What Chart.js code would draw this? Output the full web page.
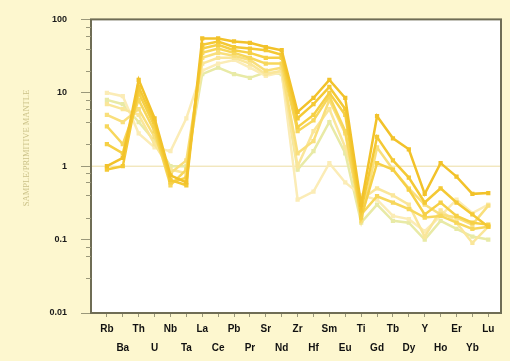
<!DOCTYPE html>
<html>
<head>
<meta charset="utf-8">
<script src="https://cdn.jsdelivr.net/npm/chart.js@4.4.1/dist/chart.umd.min.js"></script>
<style>
  html, body { margin: 0; padding: 0; background: #fdf7cf; }
  #wrap { width: 510px; height: 361px; position: relative; }
</style>
</head>
<body>
<div id="wrap"><canvas id="c" width="510" height="361"></canvas></div>
<script>
// Primitive-mantle normalised trace elements
const elements = ['Rb','Ba','Th','U','Nb','Ta','La','Ce','Pb','Pr','Sr','Nd','Zr','Hf','Sm','Eu','Ti','Gd','Tb','Dy','Y','Ho','Er','Yb','Lu'];

const sample1 = [1.0, 1.3, 15, 4.5, 0.75, 0.6, 55, 55, 50, 48, 42, 38, 5.5, 8.5, 15, 8.5, 0.3, 4.8, 2.4, 1.7, 0.42, 1.1, 0.72, 0.42, 0.43];
const sample2 = [0.9, 1.0, 12, 4.0, 0.65, 0.55, 45, 50, 42, 40, 38, 33, 4.5, 7.0, 12, 6.0, 0.25, 2.5, 1.2, 0.7, 0.32, 0.5, 0.32, 0.22, 0.15];
const sample3 = [2.0, 1.5, 10, 3.5, 0.6, 0.7, 40, 45, 38, 35, 30, 30, 3.4, 5.0, 10, 5.0, 0.2, 1.1, 0.9, 0.48, 0.22, 0.32, 0.21, 0.17, 0.16];
const sample4 = [3.5, 2.0, 8.0, 3.0, 0.55, 0.9, 35, 40, 35, 30, 25, 25, 3.0, 4.2, 9.0, 3.0, 0.22, 0.39, 0.32, 0.26, 0.2, 0.21, 0.17, 0.14, 0.15];
const sample5 = [5.0, 4.0, 6.0, 2.5, 0.8, 1.2, 30, 35, 32, 28, 20, 22, 1.5, 2.2, 8.0, 2.8, 0.18, 1.8, 0.9, 0.5, 0.3, 0.22, 0.2, 0.16, 0.29];
const sample6 = [7.0, 6.0, 5.0, 2.0, 0.9, 0.8, 25, 30, 30, 25, 18, 20, 1.0, 3.0, 6.0, 1.8, 0.35, 0.5, 0.4, 0.3, 0.11, 0.25, 0.17, 0.09, 0.15];
const sample7 = [10, 9.0, 2.8, 1.8, 1.6, 4.5, 20, 25, 28, 22, 17, 19, 0.35, 0.45, 1.1, 0.6, 0.4, 0.35, 0.21, 0.19, 0.13, 0.21, 0.35, 0.23, 0.3];
const sample8 = [8.0, 7.0, 4.0, 2.2, 1.0, 1.0, 18, 22, 18, 16, 19, 18, 0.9, 1.6, 4.0, 1.5, 0.17, 0.3, 0.18, 0.17, 0.1, 0.18, 0.14, 0.11, 0.1];

const yTicks = [100, 10, 1, 0.1, 0.01];

const samples = [sample1, sample2, sample3, sample4, sample5, sample6, sample7, sample8];
const colours = ['#f2c22a', '#f4c935', '#f6d046', '#f7d75c', '#f9df7c', '#fae69a', '#fbecb6', '#e8eaa6'];

const datasets = samples.map((vals, k) => ({
  data: vals.map((v, i) => ({ x: i, y: v })),
  borderColor: colours[k],
  backgroundColor: colours[k],
  borderWidth: 2.5,
  pointStyle: 'rect',
  pointRadius: 3,
  pointBorderWidth: 0,
  tension: 0
}));

// reference level at 1
datasets.push({
  data: [{ x: -1, y: 1 }, { x: 24.8, y: 1 }],
  borderColor: '#ecdda2',
  borderWidth: 1,
  pointRadius: 0
});

const frame = {
  id: 'frame',
  beforeDraw(chart) {
    const { ctx, chartArea: a } = chart;
    ctx.save();
    ctx.fillStyle = '#ffffff';
    ctx.fillRect(a.left, a.top, a.right - a.left, a.bottom - a.top);
    ctx.restore();
  },
  afterDraw(chart) {
    const { ctx, chartArea: a } = chart;
    ctx.save();
    ctx.strokeStyle = '#6f6d55';
    ctx.lineWidth = 2;
    ctx.strokeRect(a.left, a.top, a.right - a.left, a.bottom - a.top);
    // minor log ticks
    const ys = chart.scales.y;
    ctx.strokeStyle = '#9a987a';
    ctx.lineWidth = 1;
    ys.ticks.forEach(t => {
      const p = Math.log10(t.value);
      if (Math.abs(p - Math.round(p)) < 1e-9) return;
      const y = Math.round(ys.getPixelForValue(t.value)) + 0.5;
      ctx.beginPath();
      ctx.moveTo(a.left - 5, y);
      ctx.lineTo(a.left, y);
      ctx.stroke();
    });
    // axis title
    ctx.translate(27, 148);
    ctx.rotate(-Math.PI / 2);
    ctx.fillStyle = '#cbc288';
    ctx.font = '8.5px "Liberation Serif", "DejaVu Serif", serif';
    ctx.textAlign = 'center';
    ctx.textBaseline = 'middle';
    ctx.fillText('SAMPLE/PRIMITIVE MANTLE', 0, 0);
    ctx.restore();
  }
};

new Chart(document.getElementById('c'), {
  type: 'line',
  data: { datasets },
  options: {
    responsive: false,
    animation: false,
    events: [],
    layout: { padding: { top: 15, right: 9, left: 0, bottom: 0 } },
    plugins: { legend: { display: false }, tooltip: { enabled: false } },
    scales: {
      x: {
        type: 'linear',
        min: -1,
        max: 24.8,
        afterBuildTicks(s) { s.ticks = elements.map((_, i) => ({ value: i })); },
        afterFit(s) { s.height = 48; },
        border: { display: false },
        grid: { drawOnChartArea: false, tickLength: 4, tickColor: '#9a987a' },
        ticks: {
          autoSkip: false,
          maxRotation: 0,
          padding: 3,
          color: '#111111',
          font: { family: 'Liberation Sans, Arial, sans-serif', size: 10, weight: 'bold', lineHeight: 1.85 },
          callback(v) {
            const i = Math.round(v);
            return i % 2 === 0 ? [elements[i], ''] : ['', elements[i]];
          }
        }
      },
      y: {
        type: 'logarithmic',
        min: 0.01,
        max: 100,
        afterFit(s) { s.width = 91; },
        border: { display: false },
        grid: {
          drawOnChartArea: false,
          tickLength: 10,
          tickColor(ctx) {
            const p = Math.log10(ctx.tick.value);
            return Math.abs(p - Math.round(p)) < 1e-9 ? '#9a987a' : 'rgba(0,0,0,0)';
          }
        },
        ticks: {
          padding: 14,
          color: '#1a1a1a',
          font: { family: 'Liberation Sans, Arial, sans-serif', size: 9, weight: 'bold' },
          callback(v) {
            return yTicks.includes(v) ? String(v) : '';
          }
        }
      }
    }
  },
  plugins: [frame]
});
</script>
</body>
</html>
